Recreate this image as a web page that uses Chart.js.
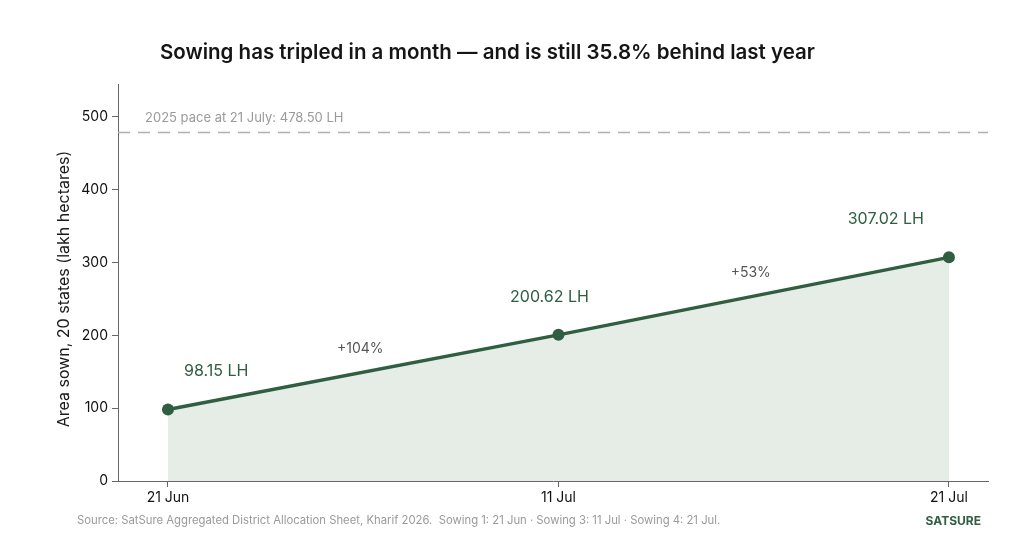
<!DOCTYPE html>
<html>
<head>
<meta charset="utf-8">
<script src="https://cdn.jsdelivr.net/npm/chart.js@4.4.1/dist/chart.umd.min.js"></script>
<style>
  html, body { margin: 0; padding: 0; background: #fff; }
  #wrap { width: 1024px; height: 544px; position: relative; }
</style>
</head>
<body>
<div id="wrap"><canvas id="sowingChart"></canvas></div>
<script>
/* ---------- data ---------- */
const dates = ["21 Jun", "11 Jul", "21 Jul"];
const areaSown = [98.15, 200.62, 307.02];
const yTicks = [0, 100, 200, 300, 400, 500];
const pace2025 = 478.50;

const GREEN = "#2f5e40";
const FONT = "Inter, 'Noto Sans', sans-serif";

/* ---------- annotations: title, labels, reference line ---------- */
const annotate = {
    id: "annotate",
    beforeDatasetsDraw(chart) {
        const { ctx, chartArea, scales } = chart;
        const y = scales.y.getPixelForValue(pace2025);
        ctx.save();
        ctx.strokeStyle = "#b0b0b0";
        ctx.lineWidth = 1.6;
        ctx.setLineDash([12, 8]);
        ctx.beginPath();
        ctx.moveTo(chartArea.left, y);
        ctx.lineTo(chartArea.right, y);
        ctx.stroke();
        ctx.setLineDash([]);
        ctx.fillStyle = "#9a9a9a";
        ctx.font = "13px " + FONT;
        ctx.textAlign = "left";
        ctx.textBaseline = "middle";
        ctx.fillText("2025 pace at 21 July: " + pace2025.toFixed(2) + " LH", chartArea.left + 27, y - 14);
        ctx.restore();
    },
    afterDraw(chart) {
        const { ctx, scales } = chart;
        ctx.save();

        // title
        ctx.fillStyle = "#151515";
        ctx.font = "600 20.5px " + FONT;
        ctx.textAlign = "left";
        ctx.textBaseline = "middle";
        ctx.fillText("Sowing has tripled in a month \u2014 and is still 35.8% behind last year", 160, 53);

        // y axis title
        ctx.save();
        ctx.translate(64, 289);
        ctx.rotate(-Math.PI / 2);
        ctx.font = "16px " + FONT;
        ctx.fillStyle = "#1a1a1a";
        ctx.textAlign = "center";
        ctx.fillText("Area sown, 20 states (lakh hectares)", 0, 0);
        ctx.restore();

        // value labels
        const aligns = ["left", "center", "right"];
        const dx = [16, -9, -25];
        ctx.font = "16px " + FONT;
        ctx.fillStyle = GREEN;
        areaSown.forEach((v, i) => {
            const px = scales.x.getPixelForValue(i);
            const py = scales.y.getPixelForValue(v);
            ctx.textAlign = aligns[i];
            ctx.fillText(v.toFixed(2) + " LH", px + dx[i], py - 38);
        });

        // growth labels
        ctx.font = "14px " + FONT;
        ctx.fillStyle = "#555";
        ctx.textAlign = "center";
        for (let i = 1; i < areaSown.length; i++) {
            const pct = Math.round((areaSown[i] / areaSown[i - 1] - 1) * 100);
            const mx = (scales.x.getPixelForValue(i - 1) + scales.x.getPixelForValue(i)) / 2;
            const my = (scales.y.getPixelForValue(areaSown[i - 1]) + scales.y.getPixelForValue(areaSown[i])) / 2;
            ctx.fillText("+" + pct + "%", mx - 3, my - 23);
        }

        // footer
        ctx.font = "11.3px " + FONT;
        ctx.fillStyle = "#9a9a9a";
        ctx.textAlign = "left";
        ctx.fillText("Source: SatSure Aggregated District Allocation Sheet, Kharif 2026.  Sowing 1: 21 Jun \u00b7 Sowing 3: 11 Jul \u00b7 Sowing 4: 21 Jul.", 77, 521);
        ctx.font = "bold 12px " + FONT;
        ctx.fillStyle = GREEN;
        ctx.textAlign = "right";
        ctx.fillText("SATSURE", 981, 521);

        ctx.restore();
    }
};

/* ---------- chart ---------- */
const ctx = document.getElementById("sowingChart").getContext("2d");

new Chart(ctx, {
    type: "line",
    data: {
        datasets: [{
            label: "Area sown",
            data: areaSown.map((v, i) => ({ x: i, y: v })),
            borderColor: GREEN,
            borderWidth: 3.5,
            backgroundColor: "#e5ede6",
            fill: "origin",
            tension: 0,
            pointRadius: 6,
            pointHoverRadius: 6,
            pointBackgroundColor: GREEN,
            pointBorderWidth: 0
        }]
    },
    options: {
        responsive: true,
        maintainAspectRatio: false,
        animation: false,
        layout: { padding: { left: 0, right: 36, top: 84, bottom: 0 } },
        plugins: {
            legend: { display: false },
            tooltip: { enabled: false }
        },
        scales: {
            x: {
                type: "linear",
                min: -0.128,
                max: 2.1,
                afterBuildTicks: (s) => { s.ticks = dates.map((d, i) => ({ value: i })); },
                afterFit: (s) => { s.height = 63; },
                grid: { drawOnChartArea: false, drawTicks: true, tickLength: 6, color: "#666" },
                border: { color: "#666", width: 1 },
                ticks: {
                    color: "#111",
                    font: { family: FONT, size: 14 },
                    padding: 2,
                    maxRotation: 0,
                    callback: (v) => dates[v]
                }
            },
            y: {
                min: 0,
                max: 545,
                afterBuildTicks: (s) => { s.ticks = yTicks.map((v) => ({ value: v })); },
                afterFit: (s) => { s.width = 118; },
                grid: { drawOnChartArea: false, drawTicks: true, tickLength: 6, color: "#666" },
                border: { color: "#666", width: 1 },
                ticks: {
                    color: "#111",
                    font: { family: FONT, size: 14 },
                    padding: 4
                }
            }
        }
    },
    plugins: [annotate]
});
</script>
</body>
</html>
